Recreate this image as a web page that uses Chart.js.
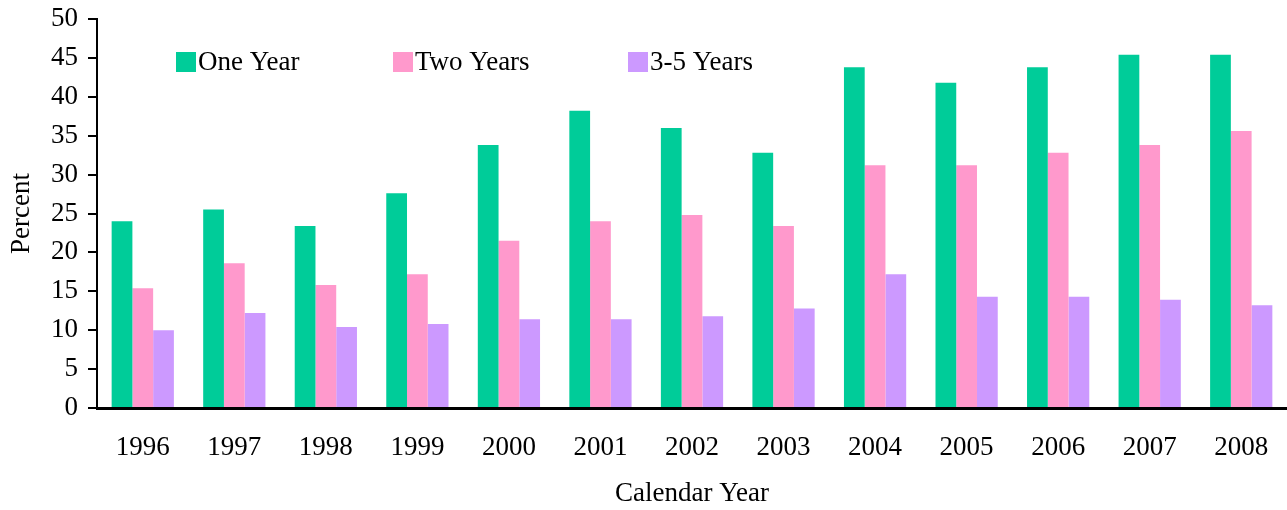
<!DOCTYPE html>
<html>
<head>
<meta charset="utf-8">
<script src="https://cdn.jsdelivr.net/npm/chart.js@4/dist/chart.umd.min.js"></script>
<style>
  html, body { margin: 0; padding: 0; background: #fff; }
  #wrap { width: 1287px; height: 510px; }
</style>
</head>
<body>
<div id="wrap"><canvas id="c" width="1287" height="510"></canvas></div>
<script>
const categories = ['1996','1997','1998','1999','2000','2001','2002','2003','2004','2005','2006','2007','2008'];
const seriesNames = ['One Year', 'Two Years', '3-5 Years'];
const oneYear   = [24.0, 25.5, 23.4, 27.6, 33.8, 38.2, 36.0, 32.8, 43.8, 41.8, 43.8, 45.4, 45.4];
const twoYears  = [15.4, 18.6, 15.8, 17.2, 21.5, 24.0, 24.8, 23.4, 31.2, 31.2, 32.8, 33.8, 35.6];
const threeFive = [10.0, 12.2, 10.4, 10.8, 11.4, 11.4, 11.8, 12.8, 17.2, 14.3, 14.3, 13.9, 13.2];
const yTicks = [0, 5, 10, 15, 20, 25, 30, 35, 40, 45, 50];

const colors = ['#00CC99', '#FF99CC', '#CC99FF'];
const FONT = '"Liberation Serif", "Times New Roman", serif';
const FSIZE = 27;
const legendX = [176, 393, 628];
const legendY = 52;

const legendPlugin = {
  id: 'customLegend',
  afterDraw(chart) {
    const ctx = chart.ctx;
    ctx.save();
    ctx.font = FSIZE + 'px ' + FONT;
    ctx.textBaseline = 'middle';
    ctx.textAlign = 'left';
    chart.data.datasets.forEach((ds, i) => {
      ctx.fillStyle = ds.backgroundColor;
      ctx.fillRect(legendX[i], legendY, 20, 20);
      ctx.fillStyle = '#000';
      ctx.fillText(ds.label, legendX[i] + 22, legendY + 11);
    });
    ctx.restore();
  }
};

new Chart(document.getElementById('c'), {
  type: 'bar',
  data: {
    labels: categories,
    datasets: [
      { label: seriesNames[0], data: oneYear, backgroundColor: colors[0] },
      { label: seriesNames[1], data: twoYears, backgroundColor: colors[1] },
      { label: seriesNames[2], data: threeFive, backgroundColor: colors[2] }
    ]
  },
  options: {
    responsive: false,
    animation: false,
    devicePixelRatio: 1,
    layout: { padding: { top: 19, right: 0, left: 0, bottom: 0 } },
    datasets: { bar: { categoryPercentage: 0.68, barPercentage: 1.0 } },
    plugins: { legend: { display: false }, tooltip: { enabled: false } },
    scales: {
      x: {
        grid: { display: false, drawTicks: false },
        border: { display: true, color: '#000', width: 3 },
        ticks: { color: '#000', font: { family: FONT, size: FSIZE }, padding: 24, maxRotation: 0, autoSkip: false },
        title: { display: true, text: 'Calendar Year', color: '#000', font: { family: FONT, size: FSIZE }, padding: { top: 0, bottom: 0 } },
        afterFit(scale) { scale.height = 102; scale.paddingRight = 0; }
      },
      y: {
        min: 0, max: 50,
        afterBuildTicks(scale) { scale.ticks = yTicks.map(v => ({ value: v })); },
        grid: { display: true, drawOnChartArea: false, drawTicks: true, tickLength: 9, color: '#000', lineWidth: 2 },
        border: { display: true, color: '#000', width: 2 },
        ticks: { color: '#000', font: { family: FONT, size: FSIZE }, padding: 10 },
        title: { display: true, text: 'Percent', color: '#000', font: { family: FONT, size: FSIZE }, padding: { top: 6, bottom: 0 } },
        afterFit(scale) { scale.width = 97; scale.paddingTop = 0; scale.paddingBottom = 0; }
      }
    }
  },
  plugins: [legendPlugin]
});
</script>
</body>
</html>
